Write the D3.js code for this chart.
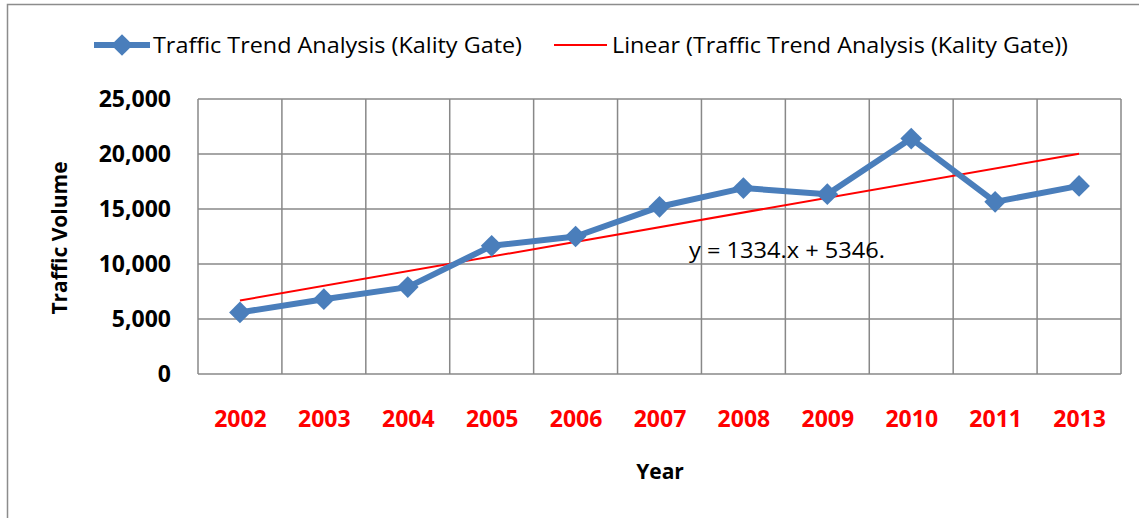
<!DOCTYPE html>
<html>
<head>
<meta charset="utf-8">
<script src="https://cdn.jsdelivr.net/npm/d3@7"></script>
<style>
  body { margin: 0; background: #fff; }
  svg text { font-family: "Open Sans", sans-serif; }
</style>
</head>
<body>
<div id="chart"></div>
<script>
// data
var years = ["2002", "2003", "2004", "2005", "2006", "2007", "2008", "2009", "2010", "2011", "2013"];
var traffic = [5600, 6800, 7900, 11650, 12500, 15200, 16900, 16350, 21400, 15650, 17100];
var yTicks = [0, 5000, 10000, 15000, 20000, 25000];
var trendSlope = 1334;
var trendIntercept = 5346;
var seriesName = "Traffic Trend Analysis (Kality Gate)";
var trendName = "Linear (Traffic Trend Analysis (Kality Gate))";
var equation = "y = 1334.x + 5346.";

var W = 1139, H = 518;
var margin = {top: 99, right: 18, bottom: 144, left: 198};
var width = W - margin.left - margin.right,
    height = H - margin.top - margin.bottom;

var svg = d3.select("#chart").append("svg")
  .attr("width", W).attr("height", H);

// outer chart frame (cut off on the right/bottom in the original)
svg.append("rect")
  .attr("x", 7.5).attr("y", 4.5)
  .attr("width", W + 20).attr("height", H + 20)
  .attr("fill", "none").attr("stroke", "#8c8c8c").attr("stroke-width", 1.5);

var g = svg.append("g").attr("transform", "translate(" + margin.left + "," + margin.top + ")");

var xBand = d3.scaleBand().domain(years).range([0, width]);
var x = d3.scalePoint().domain(years).range([0, width]).padding(0.5);
var y = d3.scaleLinear().domain([0, 25000]).range([height, 0]);

var gridColor = "#888888";

// horizontal grid
g.selectAll(".hgrid").data(yTicks).enter().append("line")
  .attr("x1", 0).attr("x2", width)
  .attr("y1", d => y(d)).attr("y2", d => y(d))
  .attr("stroke", gridColor).attr("stroke-width", 1.5);

// vertical grid at category boundaries
var bounds = years.map(d => xBand(d)).concat([width]);
g.selectAll(".vgrid").data(bounds).enter().append("line")
  .attr("x1", d => d).attr("x2", d => d)
  .attr("y1", 0).attr("y2", height)
  .attr("stroke", gridColor).attr("stroke-width", 1.5);

// y axis tick labels
var yAxis = d3.axisLeft(y).tickValues(yTicks).tickSize(0).tickPadding(27)
  .tickFormat(d3.format(","));
g.append("g").call(yAxis)
  .call(s => s.select(".domain").remove())
  .selectAll("text")
    .attr("font-family", "Open Sans").attr("font-size", 23).attr("font-weight", "bold")
    .attr("fill", "#000");

// x axis labels (red)
var xAxis = d3.axisBottom(x).tickSize(0).tickPadding(37);
g.append("g").attr("transform", "translate(0," + height + ")").call(xAxis)
  .call(s => s.select(".domain").remove())
  .selectAll("text")
    .attr("font-family", "Open Sans").attr("font-size", 23).attr("font-weight", "bold")
    .attr("fill", "#ff0000");

// trend line from equation, x = 1..n
var trend = [1, years.length].map(i => ({year: years[i - 1], value: trendSlope * i + trendIntercept}));
g.append("path").datum(trend)
  .attr("fill", "none").attr("stroke", "#ff0000").attr("stroke-width", 2)
  .attr("d", d3.line().x(d => x(d.year)).y(d => y(d.value)));

// data line
var pts = years.map((d, i) => ({year: d, value: traffic[i]}));
g.append("path").datum(pts)
  .attr("fill", "none").attr("stroke", "#4a7ebb").attr("stroke-width", 6)
  .attr("stroke-linejoin", "round")
  .attr("d", d3.line().x(d => x(d.year)).y(d => y(d.value)));

var diamond = d3.symbol().type(d3.symbolDiamond2).size(300);
g.selectAll(".pt").data(pts).enter().append("path")
  .attr("transform", d => "translate(" + x(d.year) + "," + y(d.value) + ")")
  .attr("d", diamond)
  .attr("fill", "#4a7ebb");

// trend equation label
svg.append("text")
  .attr("x", 689).attr("y", 258)
  .attr("font-size", 21).attr("fill", "#000")
  .attr("textLength", 196).attr("lengthAdjust", "spacingAndGlyphs")
  .text(equation);

// axis titles
svg.append("text")
  .attr("transform", "translate(67,238) rotate(-90)")
  .attr("text-anchor", "middle")
  .attr("font-size", 21).attr("font-weight", "bold")
  .text("Traffic Volume");

svg.append("text")
  .attr("x", 660).attr("y", 479)
  .attr("text-anchor", "middle")
  .attr("font-size", 21).attr("font-weight", "bold")
  .text("Year");

// legend
var leg = svg.append("g");
leg.append("line").attr("x1", 94).attr("x2", 150).attr("y1", 45).attr("y2", 45)
  .attr("stroke", "#4a7ebb").attr("stroke-width", 6);
leg.append("path").attr("transform", "translate(122,45)").attr("d", diamond).attr("fill", "#4a7ebb");
leg.append("text").attr("x", 153).attr("y", 53).attr("font-size", 22)
  .attr("textLength", 369).attr("lengthAdjust", "spacingAndGlyphs")
  .text(seriesName);
leg.append("line").attr("x1", 554).attr("x2", 607).attr("y1", 45).attr("y2", 45)
  .attr("stroke", "#ff0000").attr("stroke-width", 2);
leg.append("text").attr("x", 612).attr("y", 53).attr("font-size", 22)
  .attr("textLength", 456).attr("lengthAdjust", "spacingAndGlyphs")
  .text(trendName);
</script>
</body>
</html>
